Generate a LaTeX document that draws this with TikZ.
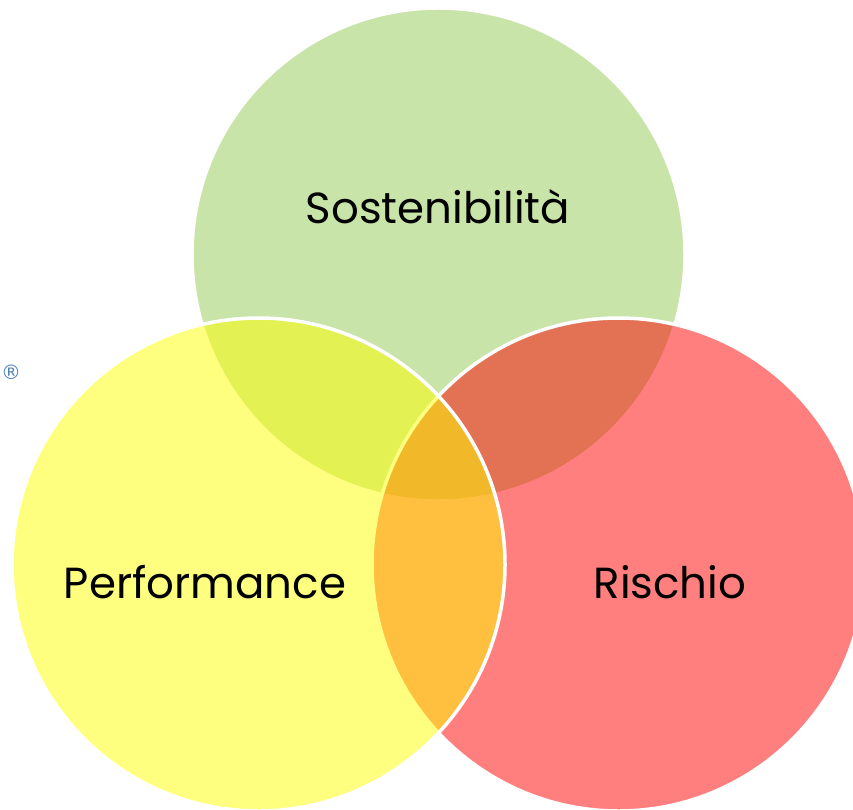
\documentclass[tikz,border=0pt]{standalone}
\usepackage{fontspec}
\setmainfont{Poppins}
\newfontfamily\markfont{DejaVu Sans}
\usepackage{xcolor}
\definecolor{sustgreen}{RGB}{146,201,82}
\definecolor{perfyellow}{RGB}{255,255,0}
\definecolor{riskred}{RGB}{255,0,0}
\definecolor{markblue}{RGB}{79,129,189}
\tikzset{
    set-circle/.style = {draw=white, line width=3.5pt, fill opacity=0.5, circle, minimum size=493pt, inner sep=0pt},
    set-label/.style = {font=\fontsize{43.5}{52}\selectfont, text=black},
}

\begin{document}
\begin{tikzpicture}[x=1pt,y=-1pt]
\useasboundingbox (0,0) rectangle (853,810);
\node [set-circle, fill=sustgreen] (sust) at (438.5,254.5) {};
\node [set-circle, fill=riskred] (risk) at (618.5,564.5) {};
\node [set-circle, fill=perfyellow] (perf) at (258.5,564.5) {};
\node [set-label] (sust-label) at (438,207) {Sostenibilità};
\node [set-label] (perf-label) at (205,582) {Performance};
\node [set-label] (risk-label) at (670,582) {Rischio};
\node [text=markblue, font=\markfont\fontsize{20}{20}\selectfont, inner sep=0pt, anchor=west] (mark) at (1,372) {®};
\end{tikzpicture}
\end{document}
